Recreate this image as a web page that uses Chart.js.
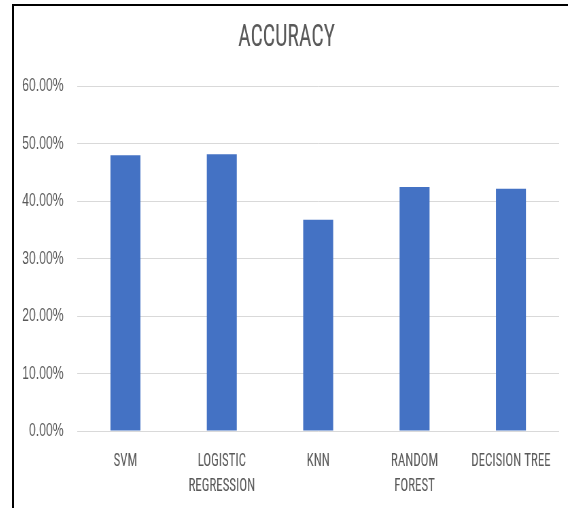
<!DOCTYPE html>
<html>
<head>
<meta charset="utf-8">
<script src="https://cdn.jsdelivr.net/npm/chart.js@4"></script>
<style>
  html, body { margin: 0; padding: 0; background: #fff; overflow: hidden; }
  body { width: 568px; height: 508px; position: relative; }
  #frame {
    position: absolute; left: 12px; top: 4px;
    width: 556px; height: 504px;
    border-left: 2px solid #000; border-top: 2px solid #000;
    overflow: hidden;
  }
  /* the source picture is a horizontally squeezed screenshot */
  #squeeze { width: 815px; height: 502px; transform: scaleX(0.6797); transform-origin: 0 0; }
</style>
</head>
<body>
<div id="frame">
  <div id="squeeze">
    <canvas id="chart" width="815" height="502"></canvas>
  </div>
</div>
<script>
var categories = ['SVM', ['LOGISTIC', 'REGRESSION'], 'KNN', ['RANDOM', 'FOREST'], 'DECISION TREE'];
var accuracy = [48.0, 48.2, 36.8, 42.5, 42.2];
var yTicks = [0, 10, 20, 30, 40, 50, 60];

var textColor = '#595959';
var narrow = "'Liberation Sans Narrow', 'Roboto Condensed', 'DejaVu Sans Condensed', 'Liberation Sans', sans-serif";

var ctx = document.getElementById('chart').getContext('2d');
var myChart = new Chart(ctx, {
  type: 'bar',
  data: {
    labels: categories,
    datasets: [{
      label: 'Accuracy',
      data: accuracy,
      backgroundColor: '#4472C4',
      borderWidth: 0,
      categoryPercentage: 1,
      barPercentage: 0.311
    }]
  },
  options: {
    responsive: false,
    animation: false,
    devicePixelRatio: 1,
    layout: { padding: { left: 0, right: 13, top: 0, bottom: 0 } },
    plugins: {
      legend: { display: false },
      tooltip: { enabled: false },
      title: {
        display: true,
        text: 'ACCURACY',
        color: textColor,
        font: { family: narrow, size: 32, weight: 'normal', lineHeight: 1.2 },
        padding: { top: 13, bottom: 29 }
      }
    },
    scales: {
      x: {
        grid: { display: false, drawTicks: false },
        border: { display: false },
        ticks: {
          color: textColor,
          padding: 18,
          maxRotation: 0,
          autoSkip: false,
          font: { family: narrow, size: 19, lineHeight: 1.32 }
        },
        afterFit: function (scale) { scale.height = 77; }
      },
      y: {
        min: yTicks[0],
        max: yTicks[yTicks.length - 1],
        grid: { color: '#D9D9D9', lineWidth: 1, drawTicks: false },
        border: { display: false },
        afterBuildTicks: function (scale) {
          scale.ticks = yTicks.map(function (v) { return { value: v }; });
        },
        ticks: {
          color: textColor,
          padding: 20,
          font: { family: "'Liberation Sans', Arial, sans-serif", size: 18 },
          callback: function (v) { return v.toFixed(2) + '%'; }
        },
        afterFit: function (scale) { scale.width = 93; }
      }
    }
  }
});
</script>
</body>
</html>
